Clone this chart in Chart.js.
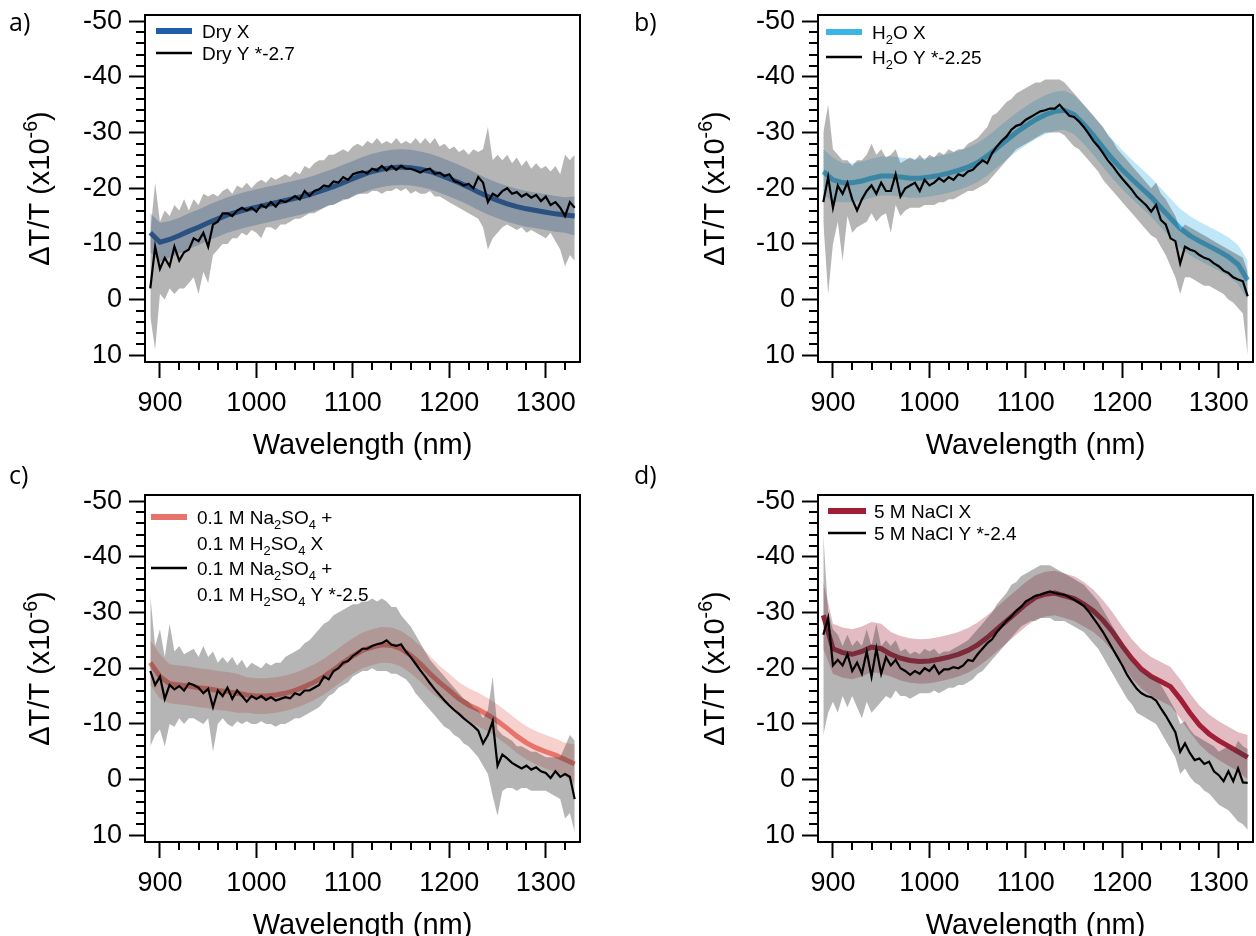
<!DOCTYPE html>
<html><head><meta charset="utf-8">
<script src="https://cdn.jsdelivr.net/npm/chart.js@4.4.1/dist/chart.umd.min.js"></script>
<style>
html,body{margin:0;padding:0;background:#fff;overflow:hidden;width:1256px;height:936px;position:relative}
canvas{position:absolute}
.lab{position:absolute;font-family:'Open Sans',sans-serif;font-size:25px;line-height:25px;color:#000}
</style></head><body>
<canvas id="ca" width="628" height="480" style="left:0;top:0"></canvas>
<canvas id="cb" width="628" height="480" style="left:628px;top:0"></canvas>
<canvas id="cc" width="628" height="480" style="left:0;top:480px"></canvas>
<canvas id="cd" width="628" height="480" style="left:628px;top:480px"></canvas>
<div class="lab" style="left:9px;top:9px">a)</div>
<div class="lab" style="left:634px;top:9px">b)</div>
<div class="lab" style="left:9px;top:462px">c)</div>
<div class="lab" style="left:634px;top:462px">d)</div>
<script>
// ---------- shared axes ----------
const wlX = [890,900,910,920,930,940,950,960,970,980,990,1000,1010,1020,1030,1040,1050,1060,1070,1080,1090,1100,1110,1120,1130,1140,1150,1160,1170,1180,1190,1200,1210,1220,1230,1240,1250,1260,1270,1280,1290,1300,1310,1320,1330];
const wlY = [890,895,900,905,910,915,920,925,930,935,940,945,950,955,960,965,970,975,980,985,990,995,1000,1005,1010,1015,1020,1025,1030,1035,1040,1045,1050,1055,1060,1065,1070,1075,1080,1085,1090,1095,1100,1105,1110,1115,1120,1125,1130,1135,1140,1145,1150,1155,1160,1165,1170,1175,1180,1185,1190,1195,1200,1205,1210,1215,1220,1225,1230,1235,1240,1245,1250,1255,1260,1265,1270,1275,1280,1285,1290,1295,1300,1305,1310,1315,1320,1325,1330];
const xTickValues = [900,1000,1100,1200,1300];
const yTickValues = [-50,-40,-30,-20,-10,0,10];
const xTitle = 'Wavelength (nm)';
const yTitle = 'ΔT/T (x10⁻⁶)';

// ---------- a) Dry ----------
const dryX = [-12,-10.3,-10.8,-11.5,-12.3,-13.0,-13.8,-14.5,-15.2,-15.7,
 -16.2,-16.6,-17.0,-17.4,-17.8,-18.2,-18.6,-19.1,-19.7,-20.3,
 -21.0,-21.7,-22.4,-23.0,-23.4,-23.7,-23.8,-23.7,-23.4,-23.0,
 -22.4,-21.7,-21.0,-20.2,-19.3,-18.5,-17.8,-17.2,-16.7,-16.3,
 -16.0,-15.7,-15.4,-15.2,-15.0];
const dryXSpread = [3.5,3.5,3.3,3.2,3.2,3.2,3.2,3.2,3.2,3.2,
 3.2,3.2,3.2,3.2,3.2,3.2,3.2,3.2,3.2,3.2,
 3.2,3.2,3.2,3.2,3.2,3.2,3.2,3.2,3.2,3.2,
 3.2,3.2,3.2,3.2,3.2,3.2,3.2,3.2,3.2,3.2,
 3.2,3.2,3.2,3.2,3.5];
const dryY = [-2,-9.5,-5.5,-7.5,-6,-9.5,-7,-8.5,-9,-11,
 -10.5,-12,-9.5,-13.5,-14,-15.5,-15.5,-15,-16,-16.5,
 -16,-16.5,-15.8,-17,-16.5,-17.5,-16.7,-17.8,-17.5,-18,
 -18.6,-18,-19.5,-18.6,-19.5,-19.8,-20.5,-20.3,-21.2,-21,
 -22,-21.5,-22.5,-22.8,-23,-22.7,-23.5,-23.2,-24,-23.2,
 -24,-23.3,-24,-23.5,-23.5,-23.2,-22.8,-23.3,-23.5,-22.6,
 -22.8,-22.2,-22.5,-21.3,-21,-20.5,-20.8,-20,-22,-21,
 -17.5,-19,-18.5,-19.5,-20,-19,-19.3,-18.5,-19,-18.3,
 -18.8,-17.7,-18.5,-17,-17.5,-16.5,-15,-17.5,-16.5];
const dryYUp = [-12,-21,-14,-16,-15,-17,-16,-18,-16,-18,
 -17,-19,-18.5,-19,-18.5,-19.5,-20,-19,-20.5,-20,
 -21,-20,-21,-21.5,-21,-22,-21.5,-22,-22.5,-22,
 -23,-22.5,-24,-23.5,-24.5,-25,-25,-26,-26,-26.5,
 -27,-26.5,-27.5,-28,-27.5,-28.5,-28,-29,-28,-28.5,
 -28,-29,-28,-28.5,-28,-29,-28,-29,-28,-29,
 -27.5,-28,-27,-27.5,-26.5,-27,-26,-27,-26.5,-27,
 -31,-25,-26,-25,-26,-24.5,-25.5,-24,-25,-23.5,
 -24.5,-23.5,-24,-23,-24,-22.5,-26,-25,-26];
const dryYLo = [3,9,-1,0,-2,-1,-2,-2,-3,-4,
 -1,-5,-3,-8,-9,-10,-10,-11,-11,-12,
 -11.5,-12.5,-12,-11,-13,-13,-12.5,-13.5,-13.5,-14,
 -14.5,-14.5,-15,-15.5,-15.5,-16,-16.5,-17,-17,-17.5,
 -18,-18,-18.5,-19,-19,-19,-19.5,-19.5,-19,-19.5,
 -19.5,-20,-19.5,-20,-19,-19.5,-19,-19,-19.5,-18.5,
 -18.5,-18,-17.5,-17,-16.5,-16,-15.5,-15,-14.5,-13,
 -9,-11,-12,-13,-13.5,-13,-12.5,-13,-12,-12.5,
 -12,-11.5,-11,-12,-10.5,-9,-6,-8,-7];

// ---------- b) H2O ----------
const h2oX = [-23,-21.5,-21,-21,-21.3,-21.8,-22.2,-22.2,-22,-21.8,
 -21.8,-22,-22.3,-22.7,-23.2,-23.8,-24.6,-25.8,-27.2,-28.6,
 -30,-31.2,-32.3,-33.2,-33.8,-34,-33.2,-31.5,-29.5,-27.3,
 -25.2,-23.3,-21.6,-20,-18.4,-16.5,-14.6,-12.8,-11.5,-10.5,
 -9.6,-8.7,-7.7,-6.3,-3.5];
const h2oXSpread = [4,4,3.5,3.5,3.5,3.5,3.5,3.5,3.5,3.5,
 3.5,3.5,3.5,3.5,3.5,3.5,3.5,3.5,3.5,3.5,
 3.5,3.5,3.5,3.5,3.5,3.5,3.5,3.5,3.5,3.5,
 3.5,3.5,3.5,3.5,3.5,3.5,3.5,3.5,3.5,3.5,
 3.5,3.5,3.5,3.5,3.5];
const h2oY = [-17.5,-22,-16.5,-20.5,-19,-21,-18,-16,-18,-19.5,
 -20.5,-19,-21,-19.5,-19.5,-22.5,-18.5,-20,-20.5,-21,
 -19.5,-21.5,-20.5,-21,-21.8,-21.2,-22,-21.5,-22.5,-22.2,
 -23,-23.3,-24.2,-25,-24.5,-26.3,-27.5,-28.5,-29.3,-30.5,
 -31.2,-31.5,-32.3,-32.8,-33.3,-33.8,-34,-34.3,-34.3,-35,
 -34,-33,-32.8,-32,-31,-29.8,-28.5,-27.5,-26.3,-25,
 -24,-22.8,-21.7,-20.7,-19.7,-18.5,-17.7,-16.9,-15.8,-17,
 -14.3,-13.5,-11,-10.5,-6.5,-9.5,-9,-8.7,-8,-7.5,
 -7.2,-6.5,-6,-5.2,-4.8,-4,-3.6,-3.3,-0.6];
const h2oYUp = [-30,-35,-27,-26,-25,-25,-24,-25,-25,-26,
 -28,-26,-27,-25.5,-26,-27,-24.5,-25,-25.5,-25,
 -26,-25,-26,-25.5,-26.5,-26,-27,-26.5,-27,-27,
 -28,-28.5,-29,-30,-31,-33,-33.5,-34.5,-35.5,-36,
 -37,-37.5,-38,-38.5,-39,-39,-39.5,-39.5,-39.5,-39.5,
 -39,-38,-37,-36,-35,-34,-33,-32,-31,-29.5,
 -28.5,-27,-26,-25,-24,-23,-22,-21,-20,-21,
 -19,-18,-16.5,-15,-12.5,-13.5,-13,-12.5,-12,-11.5,
 -11,-10.5,-10,-9.5,-9,-8.5,-8,-7.5,-5];
const h2oYLo = [-14,-1,-10,-14,-7,-15,-12,-13,-13.5,-14,
 -15.5,-14,-15,-15.5,-12,-17,-15,-16,-16.5,-16.5,
 -16.5,-17,-17,-17,-17.5,-17.5,-18,-18,-18.5,-19,
 -19.5,-19.5,-20,-20.5,-21,-22,-23,-24,-25,-26,
 -27,-27.5,-28,-28.5,-29,-29.5,-30,-30,-30,-30,
 -29.5,-28.5,-27.5,-27,-26,-25,-24,-23,-21.5,-20.5,
 -19.5,-18.5,-17.5,-16.5,-15.5,-14.5,-13.5,-12.5,-11.5,-11,
 -9.5,-8,-6,-4,-1,-4,-4,-3.5,-3,-2.5,
 -2.5,-2,-1.5,-1,0,0.5,1.5,2.5,10];

// ---------- c) 0.1 M Na2SO4 + 0.1 M H2SO4 ----------
const sulfX = [-21,-18.5,-17.2,-17,-16.8,-16.5,-16.3,-16,-15.8,-15.5,
 -15.2,-15,-15,-15.2,-15.5,-16,-16.7,-17.5,-18.5,-19.7,
 -21,-22.2,-23.2,-23.8,-24.2,-24.1,-23.5,-22.3,-20.8,-19,
 -17.4,-16,-14.5,-13.4,-12.6,-11.6,-10.5,-9.2,-7.8,-6.6,
 -5.7,-5,-4.4,-3.6,-2.8];
const sulfXSpread = [4,4,3.5,3.5,3.5,3.5,3.5,3.5,3.5,3.5,
 3.2,3.2,3.2,3.2,3.2,3.2,3.2,3.2,3.2,3.2,
 3.2,3.2,3.2,3.2,3.2,3.2,3.2,3.2,3.2,3.2,
 3,3,3,3,3,3,3,3,3,3,
 3,3,3,3,3.5];
const sulfY = [-19.5,-17,-18.5,-14.5,-17,-16.2,-16.8,-16,-17.3,-17,
 -16.5,-15.5,-16.3,-13,-16,-15,-16.5,-14.5,-16,-15,
 -14,-15,-14.5,-15,-14.3,-14.8,-14.2,-14.5,-14.8,-14.6,
 -15.5,-15.2,-16,-16,-16.5,-17,-18.5,-18,-19.5,-20,
 -21,-21.3,-22.2,-22.8,-23.5,-23.5,-24,-24.3,-24.5,-25,
 -24.2,-24,-24.3,-23,-22,-20.8,-19.6,-18.5,-17.3,-16.2,
 -15.2,-14.2,-13.3,-12.5,-11.8,-11,-10.3,-9.6,-8.8,-6.5,
 -8,-10.5,-2.5,-4.5,-3.8,-3,-2.5,-2,-2.5,-1.8,
 -2.2,-1.5,-1.2,-0.3,-1.5,-0.5,-1,-0.5,3.5];
const sulfYUp = [-33,-24,-27,-22,-28,-23,-24,-22.5,-23,-23.5,
 -22,-24,-22,-23,-21,-22,-21,-22,-20.5,-21.5,
 -20,-21,-20.5,-20,-21,-20.5,-21,-21,-22,-22.5,
 -23,-23.5,-24.5,-25,-26,-27,-28,-28.5,-29.5,-30,
 -30.5,-31,-31.5,-31.5,-32,-32,-32.5,-32,-32.5,-32,
 -31,-31,-29.5,-28.5,-27.5,-26,-24.5,-23,-21.5,-20.5,
 -19.5,-18.5,-17.5,-16.5,-15.5,-14.5,-14,-13,-12.5,-11,
 -12.5,-18.5,-9,-8,-7.5,-7,-6,-6,-5.5,-5,
 -5,-4.5,-4,-4,-4,-4,-6,-8,-7];
const sulfYLo = [-6,-8,-9,-6,-10,-9.5,-11,-10,-11,-11,
 -10.5,-10,-11,-5,-10,-11,-10,-9.5,-10.5,-10,
 -10.5,-10,-10,-10.5,-10,-10,-9.5,-10,-10,-10.5,
 -11,-11,-11.5,-12,-12.5,-13,-14,-15,-15.5,-16.5,
 -17,-17.5,-18.5,-19,-19.5,-19.5,-20,-19.5,-19.5,-19.5,
 -19,-19,-18.5,-18,-17,-15.5,-14.5,-13.5,-12.5,-11.5,
 -10.5,-9.5,-9,-8,-7.5,-6.5,-6,-5,-4,-2.5,
 -1,3,6.5,2,1.5,1.5,2,1.5,1.5,2,
 2,2,2,2.5,3,3.5,7,6,9.5];

// ---------- d) 5 M NaCl ----------
const naclX = [-29.5,-23.5,-22.8,-22.5,-23,-23.8,-23.5,-22.5,-21.8,-21.4,
 -21.2,-21.3,-21.6,-22,-22.5,-23.2,-24.2,-25.5,-27,-28.5,
 -30,-31.5,-32.7,-33.3,-33.5,-33,-32.5,-31.5,-30.3,-28.6,
 -26.5,-24,-21.7,-19.8,-18.5,-17.6,-16.7,-14.5,-12,-9.8,
 -8.2,-7,-6,-5,-4];
const naclXSpread = [6,4.5,4.5,4.5,4.5,4.5,4.5,4,4,4,
 4,4,4,4,4,4,4,4,4,4,
 4,4,4,4,4,4,4,4,3.8,3.6,
 3.5,3.5,3.5,3.5,3.5,3.5,3.5,3.5,3.5,3.5,
 3.5,3.5,3.5,3.5,4];
const naclY = [-26,-29,-20.5,-21.5,-20.5,-22.5,-19.5,-21,-19,-23,
 -18.5,-23.5,-19,-22,-20.5,-21.5,-20,-19.5,-18.8,-19.5,
 -19,-20,-19.5,-20.5,-19,-19.8,-19.8,-20.2,-20,-20.5,
 -21.5,-21.3,-22.5,-23.5,-24.5,-25.2,-26.5,-27.5,-28.5,-29.3,
 -30.3,-31,-32,-32.5,-33,-33.2,-33.5,-33.8,-33.5,-33.3,
 -33.2,-32.8,-32.3,-31.8,-31.2,-30.2,-29,-27.8,-26.5,-25,
 -23.5,-22,-20.5,-18.8,-17.5,-16.3,-15.5,-15,-14.8,-14.2,
 -12.8,-11.5,-10,-8.5,-5,-6.5,-4.8,-3.5,-3.8,-2.8,
 -3.2,-1.5,-0.8,0.3,-1.5,0.3,-2,0.5,0.6];
const naclYUp = [-44,-30,-27,-26,-24,-26,-24,-25,-24,-27,
 -24,-28,-24,-25,-24,-25,-23,-23.5,-22.5,-23,
 -22.5,-23.5,-23,-23.5,-22.5,-23,-23,-23.5,-24,-24.5,
 -25,-26,-27,-28,-29,-30,-31.5,-32.5,-33.5,-35,
 -35.5,-36.5,-37,-37.5,-38,-38.5,-38.5,-38.5,-38,-37.5,
 -37,-36.5,-36,-35.5,-35,-34,-33,-32,-30.5,-29,
 -27.5,-26,-24.5,-23,-21.5,-20.5,-19.5,-19,-18.5,-18,
 -17,-15.5,-14,-12.5,-10,-10.5,-9,-8,-7.5,-7,
 -6.5,-6,-5,-5.5,-6,-5,-7,-6,-5.5];
const naclYLo = [-8,-12,-14,-12,-15,-13,-15,-13,-11,-14,
 -12,-13,-14,-15,-14.5,-16,-15,-15,-14.5,-15,
 -15.5,-15.5,-15.5,-16,-15.5,-16,-16.5,-16.5,-17,-17,
 -17.5,-18,-19,-19.5,-20.5,-21.5,-22.5,-23.5,-24.5,-25.5,
 -26.5,-27.5,-28,-28.5,-28.5,-29,-29,-29,-28.5,-28.5,
 -28.5,-28,-27.5,-27,-26.5,-25.5,-24.5,-23.5,-22,-20.5,
 -19,-17.5,-16,-14.5,-13.5,-12,-11.5,-11,-10.5,-10,
 -8.5,-7,-5.5,-4,-1,-2,-0.5,0.5,1,2,
 2.5,3.5,4.5,5,5.5,6.5,7.5,8,9];

// ---------- rich text (sub/superscript) ----------
const SUB = {'₀':'0','₁':'1','₂':'2','₃':'3','₄':'4','₅':'5','₆':'6','₇':'7','₈':'8','₉':'9'};
const SUP = {'⁰':'0','¹':'1','²':'2','³':'3','⁴':'4','⁵':'5','⁶':'6','⁷':'7','⁸':'8','⁹':'9','⁻':'-'};
const FAM = "'Liberation Sans', Arial, sans-serif";
function segs(text){
  const out=[];
  for (const ch of text){
    const k = SUB[ch]!==undefined?'sub':(SUP[ch]!==undefined?'sup':'n');
    const c = k==='sub'?SUB[ch]:(k==='sup'?SUP[ch]:ch);
    if (out.length && out[out.length-1].k===k) out[out.length-1].t+=c; else out.push({k,t:c});
  }
  return out;
}
function drawRich(ctx, text, x, y, size, align){
  const ss = segs(text); const small = size*0.68; let w=0;
  for (const s of ss){ ctx.font = (s.k==='n'?size:small)+'px '+FAM; s.w = ctx.measureText(s.t).width; w+=s.w; }
  let cx = align==='center' ? x-w/2 : x;
  const base = y + size*0.36;
  ctx.textAlign='left'; ctx.textBaseline='alphabetic'; ctx.fillStyle='#000';
  for (const s of ss){
    ctx.font = (s.k==='n'?size:small)+'px '+FAM;
    const dy = s.k==='sub'? size*0.25 : (s.k==='sup'? -size*0.42 : 0);
    ctx.fillText(s.t, cx, base+dy); cx += s.w;
  }
}

// ---------- decoration plugin: frame, minor ticks, y title, legend ----------
const deco = {
  id:'deco',
  afterDraw(chart, args, o){
    const ctx = chart.ctx, a = chart.chartArea, xs = chart.scales.x, ys = chart.scales.y;
    ctx.save();
    ctx.strokeStyle='#000'; ctx.lineWidth=2;
    ctx.beginPath();
    for (let v=880; v<=1340; v+=20){ if (v%100===0 || v<xs.min || v>xs.max) continue; const px=Math.round(xs.getPixelForValue(v)); ctx.moveTo(px,a.bottom); ctx.lineTo(px,a.bottom+8); }
    for (let v=-50; v<=10; v+=2){ if (v%10===0) continue; const py=Math.round(ys.getPixelForValue(v)); ctx.moveTo(a.left-9,py); ctx.lineTo(a.left,py); }
    ctx.stroke();
    ctx.strokeRect(a.left, a.top, a.right-a.left, a.bottom-a.top);
    // y title
    ctx.save(); ctx.translate(a.left - o.titleOffset, (a.top+a.bottom)/2); ctx.rotate(-Math.PI/2);
    drawRich(ctx, yTitle, 0, 0, 29, 'center'); ctx.restore();
    // legend
    let r = 0;
    chart.data.datasets.filter(d=>d.legendLines).sort((p,q)=>p.legendRank-q.legendRank).forEach(d=>{
      const yy = a.top + o.rows[r];
      ctx.strokeStyle = d.legendColor; ctx.lineWidth = d.legendWidth; ctx.lineCap='butt';
      ctx.beginPath(); ctx.moveTo(a.left+o.x0, yy); ctx.lineTo(a.left+o.x1, yy); ctx.stroke();
      d.legendLines.forEach(t=>{ drawRich(ctx, t, a.left+o.tx, a.top+o.rows[r], 19, 'left'); r++; });
    });
    ctx.restore();
  }
};

const GRAY = 'rgba(60,60,60,0.38)';
function build(id, p){
  const pts = (xa, ya) => xa.map((w,i)=>({x:w, y:ya[i]}));
  const none = 'rgba(0,0,0,0)';
  const datasets = [
    {label:p.yName, data:pts(wlY,p.y), borderColor:'#000', borderWidth:2.2, pointRadius:0, fill:false, order:0,
     legendLines:p.yLines, legendColor:'#000', legendWidth:2.5, legendRank:1},
    {label:p.yName+' lower', data:pts(wlY,p.yLo), borderColor:none, borderWidth:0, pointRadius:0, fill:false, order:1},
    {label:p.yName+' upper', data:pts(wlY,p.yUp), borderColor:none, borderWidth:0, pointRadius:0, fill:'-1', backgroundColor:GRAY, order:1},
    {label:p.xName, data:pts(wlX,p.x), borderColor:p.color, borderWidth:5, pointRadius:0, fill:false, order:2,
     legendLines:p.xLines, legendColor:p.color, legendWidth:6, legendRank:0},
    {label:p.xName+' lower', data:wlX.map((w,i)=>({x:w,y:p.x[i]+p.xs[i]})), borderColor:none, borderWidth:0, pointRadius:0, fill:false, order:3},
    {label:p.xName+' upper', data:wlX.map((w,i)=>({x:w,y:p.x[i]-p.xs[i]})), borderColor:none, borderWidth:0, pointRadius:0, fill:'-1', backgroundColor:p.band, order:3}
  ];
  const zeroPad = s => { s.paddingTop=0; s.paddingBottom=0; s.paddingLeft=0; s.paddingRight=0; };
  return new Chart(document.getElementById(id), {
    type:'line',
    data:{datasets},
    options:{
      responsive:false, animation:false, devicePixelRatio:1,
      layout:{padding:{top:15, left:0, bottom:0, right:628-p.left-435}},
      plugins:{legend:{display:false}, tooltip:{enabled:false}, deco:p.deco},
      elements:{line:{tension:0}},
      scales:{
        x:{type:'linear', min:884.5, max:1335.5,
          afterBuildTicks:s=>{ s.ticks = xTickValues.map(v=>({value:v})); },
          afterFit:s=>{ s.height=118; zeroPad(s); },
          ticks:{autoSkip:false, maxRotation:0, padding:9, color:'#000', font:{family:FAM, size:27}, callback:v=>String(v)},
          grid:{display:true, drawOnChartArea:false, drawTicks:true, tickLength:16, tickWidth:2, tickColor:'#000'},
          border:{display:true, color:'#000', width:2},
          title:{display:true, text:xTitle, color:'#000', font:{family:FAM, size:29}, padding:{top:0,bottom:17}}
        },
        y:{type:'linear', reverse:true, min:-51.1, max:11.2,
          afterBuildTicks:s=>{ s.ticks = yTickValues.map(v=>({value:v})); },
          afterFit:s=>{ s.width=p.left; zeroPad(s); },
          ticks:{autoSkip:false, padding:7, color:'#000', font:{family:FAM, size:27}, callback:v=>String(v)},
          grid:{display:true, drawOnChartArea:false, drawTicks:true, tickLength:16, tickWidth:2, tickColor:'#000'},
          border:{display:true, color:'#000', width:2},
          title:{display:false}
        }
      }
    },
    plugins:[deco]
  });
}

build('ca', {left:145, x:dryX, xs:dryXSpread, y:dryY, yUp:dryYUp, yLo:dryYLo,
  color:'#1f5ea8', band:'rgba(31,94,168,0.3)', xName:'Dry X', yName:'Dry Y *-2.7',
  xLines:['Dry X'], yLines:['Dry Y *-2.7'],
  deco:{titleOffset:106, x0:11, x1:47, tx:57, rows:[16,38]}});
build('cb', {left:190, x:h2oX, xs:h2oXSpread, y:h2oY, yUp:h2oYUp, yLo:h2oYLo,
  color:'#3bb4e6', band:'rgba(59,180,230,0.32)', xName:'H₂O X', yName:'H₂O Y *-2.25',
  xLines:['H₂O X'], yLines:['H₂O Y *-2.25'],
  deco:{titleOffset:104, x0:8, x1:44, tx:54, rows:[17,42]}});
build('cc', {left:145, x:sulfX, xs:sulfXSpread, y:sulfY, yUp:sulfYUp, yLo:sulfYLo,
  color:'#e8736b', band:'rgba(232,115,106,0.33)', xName:'0.1 M Na₂SO₄ + 0.1 M H₂SO₄ X', yName:'0.1 M Na₂SO₄ + 0.1 M H₂SO₄ Y *-2.5',
  xLines:['0.1 M Na₂SO₄ +','0.1 M H₂SO₄ X'], yLines:['0.1 M Na₂SO₄ +','0.1 M H₂SO₄ Y *-2.5'],
  deco:{titleOffset:106, x0:6, x1:42, tx:52, rows:[22,48,73,99]}});
build('cd', {left:190, x:naclX, xs:naclXSpread, y:naclY, yUp:naclYUp, yLo:naclYLo,
  color:'#a01f37', band:'rgba(160,31,55,0.3)', xName:'5 M NaCl X', yName:'5 M NaCl Y *-2.4',
  xLines:['5 M NaCl X'], yLines:['5 M NaCl Y *-2.4'],
  deco:{titleOffset:104, x0:10, x1:48, tx:56, rows:[16,38]}});
</script>
</body></html>
